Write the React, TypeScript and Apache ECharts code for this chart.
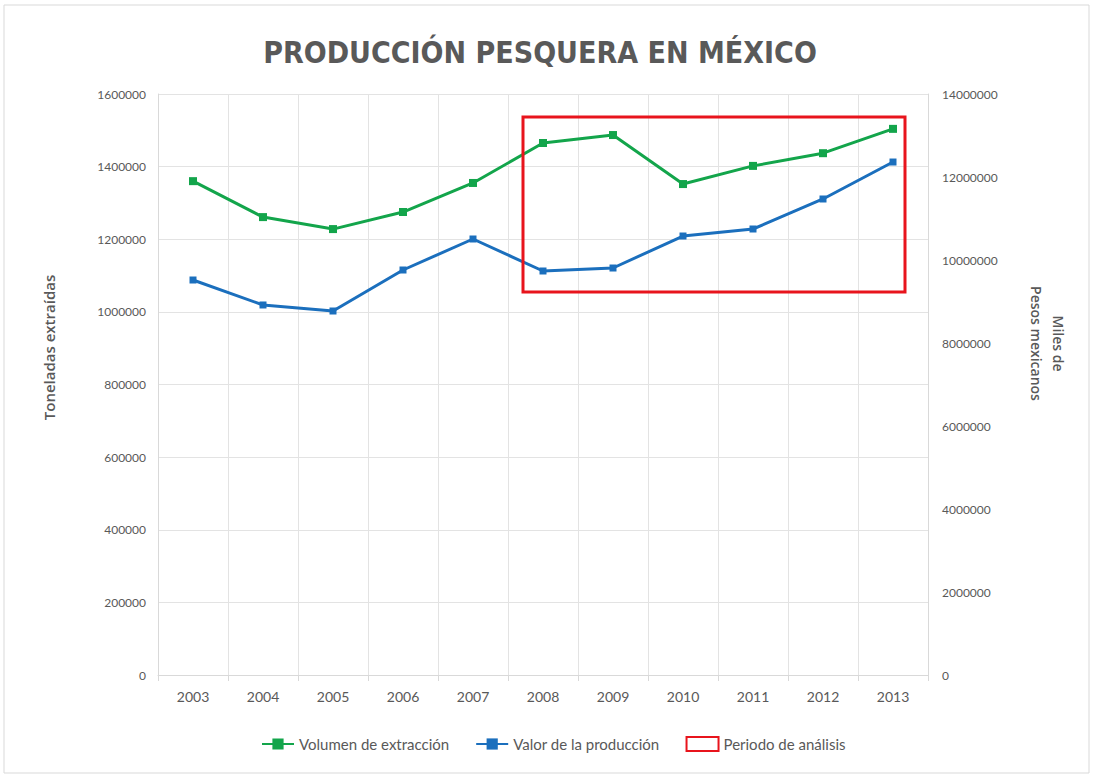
import React, { useEffect, useRef } from "react";
import * as echarts from "echarts";

const years = ["2003", "2004", "2005", "2006", "2007", "2008", "2009", "2010", "2011", "2012", "2013"];
const volumen = [1360000, 1261000, 1228000, 1275000, 1355000, 1465000, 1487000, 1352000, 1402000, 1437000, 1504000];
const valor = [9518000, 8916000, 8771000, 9759000, 10506000, 9735000, 9807000, 10578000, 10747000, 11470000, 12361000];
const leftTicks = { min: 0, max: 1600000, interval: 200000 };
const rightTicks = { min: 0, max: 14000000, interval: 2000000 };

const GREEN = "#13a54b";
const BLUE = "#1b6fbd";
const RED = "#e8141c";
const TXT = "#595959";

export default function App() {
  const ref = useRef<HTMLDivElement>(null);
  useEffect(() => {
    document.body.style.margin = "0";
    const chart = echarts.init(ref.current!, null, { renderer: "svg" });
    const labelFont = { color: TXT, fontFamily: "Lato", fontSize: 12, formatter: (v: number) => String(v) };
    chart.setOption({
      animation: false,
      backgroundColor: "#fff",
      title: {
        text: "PRODUCCIÓN PESQUERA EN MÉXICO",
        left: 535,
        textAlign: "center",
        top: 32,
        textStyle: { color: TXT, fontFamily: "DejaVu Sans Condensed", fontWeight: "bold", fontSize: 30 },
      },
      grid: { left: 158, right: 165, top: 94, bottom: 102 },
      legend: {
        bottom: 20,
        left: 256,
        itemGap: 26,
        itemWidth: 32,
        itemHeight: 14,
        textStyle: { color: TXT, fontFamily: "Lato", fontSize: 15 },
        data: [
          { name: "Volumen de extracción" },
          { name: "Valor de la producción" },
          { name: "Periodo de análisis", icon: "rect" },
        ],
      },
      xAxis: {
        type: "category",
        data: years,
        boundaryGap: true,
        axisLine: { lineStyle: { color: "#d9d9d9" } },
        axisTick: { show: true, length: 6, lineStyle: { color: "#d9d9d9" } },
        splitLine: { show: true, lineStyle: { color: "#e3e3e3" } },
        axisLabel: { color: TXT, fontFamily: "Lato", fontSize: 14, margin: 14 },
      },
      yAxis: [
        {
          type: "value",
          ...leftTicks,
          name: "Toneladas extraídas",
          nameLocation: "middle",
          nameGap: 102,
          nameTextStyle: { color: TXT, fontFamily: "Open Sans", fontWeight: 600, fontSize: 15, padding: [0, 0, 0, 74] },
          axisLine: { show: true, lineStyle: { color: "#d9d9d9" } },
          splitLine: { lineStyle: { color: "#e3e3e3" } },
          axisLabel: { ...labelFont, margin: 12 },
        },
        {
          type: "value",
          ...rightTicks,
          name: "Miles de\nPesos mexicanos",
          nameLocation: "middle",
          nameRotate: -90,
          nameGap: 97,
          nameTextStyle: { color: TXT, fontFamily: "Open Sans", fontWeight: 600, fontSize: 14, lineHeight: 22, padding: [0, 82, 0, 0] },
          axisLine: { show: true, lineStyle: { color: "#d9d9d9" } },
          splitLine: { show: false },
          axisLabel: { ...labelFont, margin: 14 },
        },
      ],
      series: [
        {
          name: "Volumen de extracción",
          type: "line",
          yAxisIndex: 0,
          data: volumen,
          symbol: "rect",
          symbolSize: 8,
          lineStyle: { color: GREEN, width: 3 },
          itemStyle: { color: GREEN },
        },
        {
          name: "Valor de la producción",
          type: "line",
          yAxisIndex: 1,
          data: valor,
          symbol: "rect",
          symbolSize: 7,
          lineStyle: { color: BLUE, width: 3 },
          itemStyle: { color: BLUE },
        },
        {
          name: "Periodo de análisis",
          type: "line",
          yAxisIndex: 0,
          data: [],
          itemStyle: { color: "rgba(0,0,0,0)", borderColor: RED, borderWidth: 3 },
        },
      ],
      graphic: [
        {
          type: "rect",
          shape: { x: 523, y: 117, width: 382, height: 175 },
          style: { fill: "none", stroke: RED, lineWidth: 3 },
          z: 10,
        },
        {
          type: "rect",
          shape: { x: 4, y: 5, width: 1085, height: 768 },
          style: { fill: "none", stroke: "#d9d9d9", lineWidth: 1 },
          z: -1,
        },
      ],
    });
    return () => chart.dispose();
  }, []);
  return <div ref={ref} style={{ width: 1093, height: 777 }} />;
}
